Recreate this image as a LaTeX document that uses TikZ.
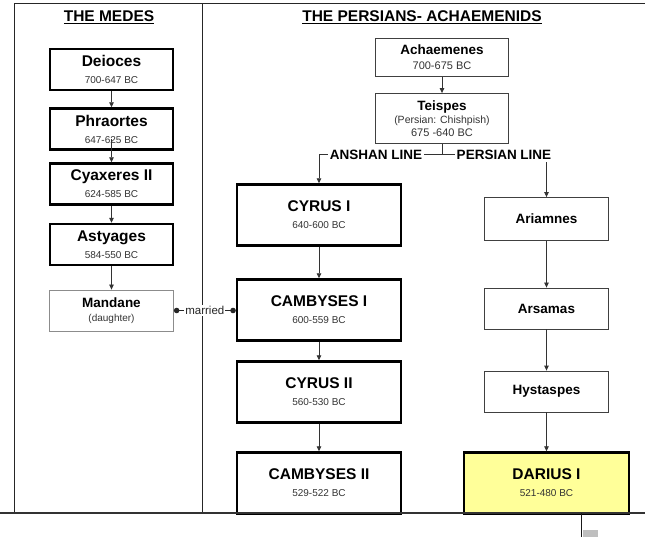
\documentclass[tikz,border=0pt]{standalone}
\usepackage{fontspec}
\setmainfont{Liberation Sans}
\usetikzlibrary{arrows.meta, positioning}

\definecolor{dariusyellow}{HTML}{FFFF99}
\newcommand{\headfont}{\fontsize{15.5}{17}\selectfont\bfseries}
\newcommand{\kingname}{\fontsize{15.5}{17}\selectfont\bfseries\color{black}}
\newcommand{\plainname}{\fontsize{13.5}{13}\selectfont\bfseries\color{black}}
\newcommand{\reignyears}{\fontsize{10}{17}\selectfont\color{black!80}}
\newcommand{\smallyears}{\fontsize{11}{13}\selectfont\color{black!80}}

\begin{document}
\begin{tikzpicture}[
    x=1pt, y=-1pt, % work in screen pixels, y downwards
    >={Triangle[length=5pt, width=4.5pt]}, % Set default arrow tip style
    kingbox/.style={draw, line width=2.4pt, align=center, inner sep=0pt, font=\reignyears},
    medebox/.style={kingbox, minimum width=123pt, minimum height=41pt},
    persbox/.style={kingbox, minimum width=164pt, minimum height=61pt},
    plainbox/.style={draw=black!75, line width=0.8pt, align=center, inner sep=0pt,
        minimum width=124pt, minimum height=41pt, font=\smallyears},
    link/.style={->, black!80, line width=0.8pt}, % Style for descent arrows
    frameline/.style={black!85, line width=1pt},
    lineLabel/.style={fill=white, inner sep=2pt, font=\plainname}
]
    \useasboundingbox (0,0) rectangle (645,537);

    % --- Frame ---
    \draw[frameline] (14,4) -- (645,4);
    \draw[frameline] (14,4) -- (14,513);
    \draw[frameline] (202,4) -- (202,513);

    % --- Headings ---
    \node[font=\headfont, anchor=base] (medesHead) at (109,22) {\underline{THE MEDES}};
    \node[font=\headfont, anchor=base] (persHead) at (422,22) {\underline{THE PERSIANS- ACHAEMENIDS}};

    % --- The Medes ---
    \node[medebox] (deioces) at (111.5,69.5) {{\kingname Deioces}\\700-647 BC};
    \node[medebox] (phraortes) at (111.5,129) {{\kingname Phraortes}\\647-625 BC};
    \node[medebox] (cyaxeres) at (111.5,184) {{\kingname Cyaxeres II}\\624-585 BC};
    \node[medebox] (astyages) at (111.5,244.5) {{\kingname Astyages}\\584-550 BC};
    \node[plainbox, draw=black!45, font=\fontsize{10}{13}\selectfont\color{black!80}] (mandane) at (111.5,310.5)
        {{\plainname Mandane}\\[1pt](daughter)};

    % --- Achaemenes and Teispes ---
    \node[plainbox, minimum width=133pt, minimum height=38pt] (achaemenes) at (442,57.5)
        {{\plainname Achaemenes}\\[2pt]700-675 BC};
    \node[plainbox, minimum width=133pt, minimum height=50pt, font=\fontsize{10.5}{12.5}\selectfont\color{black!80}]
        (teispes) at (442,118.5)
        {{\plainname Teispes}\\[1pt](Persian: Chishpish)\\{\smallyears 675 -640 BC}};

    % --- Anshan line ---
    \node[persbox] (cyrusI) at (319,215) {{\kingname CYRUS I}\\640-600 BC};
    \node[persbox] (cambysesI) at (319,310) {{\kingname CAMBYSES I}\\600-559 BC};
    \node[persbox] (cyrusII) at (319,392) {{\kingname CYRUS II}\\560-530 BC};
    \node[persbox] (cambysesII) at (319,483) {{\kingname CAMBYSES II}\\529-522 BC};

    % --- Persian line ---
    \node[plainbox, minimum height=43pt] (ariamnes) at (546.5,219) {\plainname Ariamnes};
    \node[plainbox] (arsamas) at (546.5,308.5) {\plainname Arsamas};
    \node[plainbox] (hystaspes) at (546.5,391.5) {\plainname Hystaspes};
    \node[persbox, fill=dariusyellow, minimum width=165pt] (darius) at (546.5,483)
        {{\kingname DARIUS I}\\521-480 BC};

    % --- Descent ---
    \draw[link] (deioces) -- (phraortes);
    \draw[link] ([yshift=12pt]phraortes.south) -- (cyaxeres.north);
    \draw[link] (cyaxeres) -- (astyages);
    \draw[link] (astyages) -- (mandane);
    \draw[link] (achaemenes) -- (teispes);
    \draw[link] (teispes.south) -- ++(0,11) -| (cyrusI.north);
    \draw[link] (teispes.south) -- ++(0,11) -| (ariamnes.north);
    \draw[link] (cyrusI) -- (cambysesI);
    \draw[link] (cambysesI) -- (cyrusII);
    \draw[link] (cyrusII) -- (cambysesII);
    \draw[link] (ariamnes) -- (arsamas);
    \draw[link] (arsamas) -- (hystaspes);
    \draw[link] (hystaspes) -- (darius);

    % Labels sitting on the split
    \node[lineLabel] (anshan) at (376,155) {ANSHAN LINE};
    \node[lineLabel] (persian) at (504,155) {PERSIAN LINE};

    % Marriage of Mandane and Cambyses I
    \draw[{Circle[length=5.5pt]}-{Circle[length=5.5pt]}, black!85, line width=0.9pt]
        (mandane.east) -- node[fill=white, inner sep=1pt, font=\fontsize{11.5}{13}\selectfont\color{black!75}] (married) {married}
        (mandane.east -| cambysesI.west);

    % --- Bottom edge ---
    \draw[black!80, line width=2pt] (0,513) -- (645,513);
    \draw[black!90, line width=1pt] (581,513) -- (581,537);
    \fill[black!25] (583,530) rectangle (598,537);
\end{tikzpicture}
\end{document}
